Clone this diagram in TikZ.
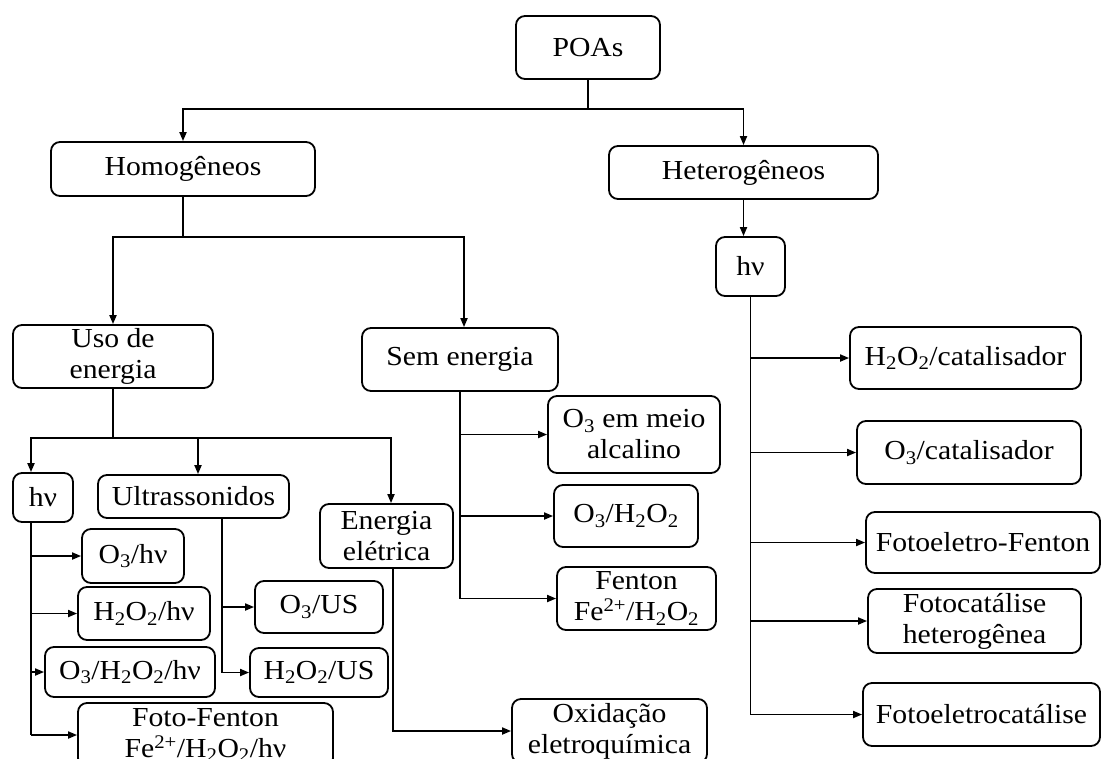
\documentclass[tikz,border=0pt]{standalone}
\usepackage{fontspec}
\setmainfont{Liberation Serif}[FakeStretch=1.08]
\usetikzlibrary{arrows.meta}

\begin{document}
\begin{tikzpicture}[x=1pt, y=-1pt, line width=1.8pt,
    box/.style={draw, rounded corners=9pt, align=center, inner sep=0pt,
      font=\fontsize{27.5}{31}\selectfont},
    arr/.style={-{Triangle[length=9pt,width=7pt]}}]
  \clip (0,0) rectangle (1105,758);
  \node[box, minimum width=144, minimum height=63] (poas) at (588,47.5) {POAs};
  \node[box, minimum width=264, minimum height=54] (homo) at (183,169) {Homogêneos};
  \node[box, minimum width=269, minimum height=53] (hetero) at (743.5,172.5) {Heterogêneos};
  \node[box, minimum width=69, minimum height=59] (hvr) at (750.5,266.5) {hν};
  \node[box, minimum width=200, minimum height=63] (uso) at (113,356.5) {Uso de\\energia};
  \node[box, minimum width=196, minimum height=63] (sem) at (460,359.5) {Sem energia};
  \node[box, minimum width=60, minimum height=49] (hvl) at (43,497.5) {hν};
  \node[box, minimum width=191, minimum height=43] (ultra) at (193.5,496.5) {Ultrassonidos};
  \node[box, minimum width=133, minimum height=64] (eletr) at (386.5,536) {Energia\\elétrica};
  \node[box, minimum width=102, minimum height=54] (o3hv) at (133,556) {O\textsubscript{3}/hν};
  \node[box, minimum width=132, minimum height=53] (h2o2hv) at (144,613.5) {H\textsubscript{2}O\textsubscript{2}/hν};
  \node[box, minimum width=170, minimum height=50] (o3h2o2hv) at (130,672) {O\textsubscript{3}/H\textsubscript{2}O\textsubscript{2}/hν};
  \node[box, minimum width=255, minimum height=64] (fotofenton) at (205.5,735) {Foto-Fenton\\Fe\textsuperscript{2+}/H\textsubscript{2}O\textsubscript{2}/hν};
  \node[box, minimum width=128, minimum height=52] (o3us) at (319,607) {O\textsubscript{3}/US};
  \node[box, minimum width=138, minimum height=49] (h2o2us) at (319,672.5) {H\textsubscript{2}O\textsubscript{2}/US};
  \node[box, minimum width=172, minimum height=77] (o3alc) at (634,434.5) {O\textsubscript{3} em meio\\alcalino};
  \node[box, minimum width=144, minimum height=62] (o3h2o2) at (626,516) {O\textsubscript{3}/H\textsubscript{2}O\textsubscript{2}};
  \node[box, minimum width=159, minimum height=63] (fenton) at (636.5,598.5) {Fenton\\Fe\textsuperscript{2+}/H\textsubscript{2}O\textsubscript{2}};
  \node[box, minimum width=195, minimum height=64] (oxid) at (609.5,731) {Oxidação\\eletroquímica};
  \node[box, minimum width=231, minimum height=62] (h2o2cat) at (965.5,358) {H\textsubscript{2}O\textsubscript{2}/catalisador};
  \node[box, minimum width=224, minimum height=63] (o3cat) at (969,452.5) {O\textsubscript{3}/catalisador};
  \node[box, minimum width=234, minimum height=61] (fotoelfenton) at (983,542.5) {Fotoeletro-Fenton};
  \node[box, minimum width=213, minimum height=64] (fotocat) at (974.5,621) {Fotocatálise\\heterogênea};
  \node[box, minimum width=237, minimum height=63] (fotoelcat) at (981.5,714.5) {Fotoeletrocatálise};

  \coordinate (j0) at (588,109);
  \draw (poas.south) -- (j0);
  \draw[arr] (j0) -| (homo.north);
  \draw[arr] (j0) -| (hetero.north);
  \coordinate (j1) at (183,237);
  \draw (homo.south) -- (j1);
  \draw[arr] (j1) -| (uso.north);
  \draw[arr] (j1) -| ([xshift=4]sem.north);
  \coordinate (j2) at (113,438);
  \draw (uso.south) -- (j2);
  \draw[arr] (j2) -| ([xshift=-12]hvl.north);
  \draw[arr] (j2) -| ([xshift=4.5]ultra.north);
  \draw[arr] (j2) -| ([xshift=4.5]eletr.north);

  \draw[arr] (hetero.south) -- (hetero.south |- hvr.north);
  \draw (hvr.south) -- (hvr.south |- fotoelcat.west);
  \foreach \n in {h2o2cat,o3cat,fotoelfenton,fotocat,fotoelcat}
    \draw[arr] (hvr.south |- \n.west) -- (\n.west);

  \draw ([xshift=-12]hvl.south) -- ([xshift=-12]hvl.south |- fotofenton.west);
  \foreach \n in {o3hv,h2o2hv,o3h2o2hv,fotofenton}
    \draw[arr] ([xshift=-12]hvl.south |- \n.west) -- (\n.west);

  \draw ([xshift=28.5]ultra.south) -- ([xshift=28.5]ultra.south |- h2o2us.west);
  \foreach \n in {o3us,h2o2us}
    \draw[arr] ([xshift=28.5]ultra.south |- \n.west) -- (\n.west);

  \draw[arr] ([xshift=6.5]eletr.south) |- (oxid.west);

  \draw (sem.south) -- (sem.south |- fenton.west);
  \foreach \n in {o3alc,o3h2o2,fenton}
    \draw[arr] (sem.south |- \n.west) -- (\n.west);
\end{tikzpicture}
\end{document}
